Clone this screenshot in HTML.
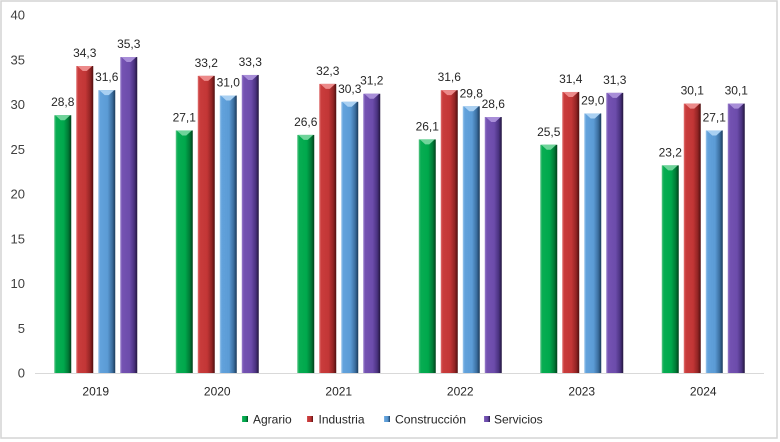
<!DOCTYPE html>
<html><head><meta charset="utf-8"><style>
html,body{margin:0;padding:0;background:#fff;}
svg{display:block;font-family:"Liberation Sans",Arial,sans-serif;}
</style></head><body>
<svg width="780" height="442" viewBox="0 0 780 442" xmlns="http://www.w3.org/2000/svg">
<defs>
<linearGradient id="gG" x1="0" x2="1" y1="0" y2="0">
<stop offset="0" stop-color="#5cc486"/><stop offset="0.12" stop-color="#07ad52"/><stop offset="0.55" stop-color="#00a84c"/><stop offset="0.82" stop-color="#007a36"/><stop offset="1" stop-color="#00401a"/></linearGradient>
<linearGradient id="gR" x1="0" x2="1" y1="0" y2="0">
<stop offset="0" stop-color="#e07070"/><stop offset="0.12" stop-color="#c93c3c"/><stop offset="0.55" stop-color="#c23636"/><stop offset="0.82" stop-color="#922424"/><stop offset="1" stop-color="#4f0f0f"/></linearGradient>
<linearGradient id="gB" x1="0" x2="1" y1="0" y2="0">
<stop offset="0" stop-color="#9cc6ec"/><stop offset="0.12" stop-color="#62a2dc"/><stop offset="0.55" stop-color="#5b9bd5"/><stop offset="0.82" stop-color="#3b6e9f"/><stop offset="1" stop-color="#1a3a5a"/></linearGradient>
<linearGradient id="gP" x1="0" x2="1" y1="0" y2="0">
<stop offset="0" stop-color="#9a80cc"/><stop offset="0.12" stop-color="#7452b2"/><stop offset="0.55" stop-color="#6c4cab"/><stop offset="0.82" stop-color="#4a3280"/><stop offset="1" stop-color="#22163d"/></linearGradient>
</defs>
<rect x="1" y="1" width="776" height="437" fill="#fff" stroke="#d4d4d4" stroke-width="1.5"/>
<g font-size="13" fill="#404040" text-anchor="end">
<text x="25" y="377.5">0</text>
<text x="25" y="332.8">5</text>
<text x="25" y="288">10</text>
<text x="25" y="243.3">15</text>
<text x="25" y="198.5">20</text>
<text x="25" y="153.8">25</text>
<text x="25" y="109">30</text>
<text x="25" y="64.3">35</text>
<text x="25" y="19.5">40</text>
</g>
<line x1="35" y1="373.5" x2="764" y2="373.5" stroke="#d9d9d9" stroke-width="1"/>
<g id="bars">
<!-- 2019 -->
<rect x="54.25" y="115.24" width="17" height="257.76" fill="url(#gG)"/>
<rect x="76.25" y="66.01" width="17" height="306.99" fill="url(#gR)"/>
<rect x="98.25" y="90.18" width="17" height="282.82" fill="url(#gB)"/>
<rect x="120.25" y="57.06" width="17" height="315.94" fill="url(#gP)"/>
<!-- 2020 -->
<rect x="175.75" y="130.45" width="17" height="242.55" fill="url(#gG)"/>
<rect x="197.75" y="75.86" width="17" height="297.14" fill="url(#gR)"/>
<rect x="219.75" y="95.55" width="17" height="277.45" fill="url(#gB)"/>
<rect x="241.75" y="74.96" width="17" height="298.04" fill="url(#gP)"/>
<!-- 2021 -->
<rect x="297.25" y="134.93" width="17" height="238.07" fill="url(#gG)"/>
<rect x="319.25" y="83.91" width="17" height="289.09" fill="url(#gR)"/>
<rect x="341.25" y="101.81" width="17" height="271.19" fill="url(#gB)"/>
<rect x="363.25" y="93.76" width="17" height="279.24" fill="url(#gP)"/>
<!-- 2022 -->
<rect x="418.75" y="139.4" width="17" height="233.6" fill="url(#gG)"/>
<rect x="440.75" y="90.18" width="17" height="282.82" fill="url(#gR)"/>
<rect x="462.75" y="106.29" width="17" height="266.71" fill="url(#gB)"/>
<rect x="484.75" y="117.03" width="17" height="255.97" fill="url(#gP)"/>
<!-- 2023 -->
<rect x="540.25" y="144.77" width="17" height="228.23" fill="url(#gG)"/>
<rect x="562.25" y="91.97" width="17" height="281.03" fill="url(#gR)"/>
<rect x="584.25" y="113.45" width="17" height="259.55" fill="url(#gB)"/>
<rect x="606.25" y="92.86" width="17" height="280.14" fill="url(#gP)"/>
<!-- 2024 -->
<rect x="661.75" y="165.36" width="17" height="207.64" fill="url(#gG)"/>
<rect x="683.75" y="103.6" width="17" height="269.4" fill="url(#gR)"/>
<rect x="705.75" y="130.45" width="17" height="242.55" fill="url(#gB)"/>
<rect x="727.75" y="103.6" width="17" height="269.4" fill="url(#gP)"/>
</g>
<g id="caps">
<polygon points="55.25,115.24 70.25,115.24 64.75,120.24 60.75,120.24" fill="#6fd49a"/>
<polygon points="77.25,66.01 92.25,66.01 86.75,71.01 82.75,71.01" fill="#ec8a8a"/>
<polygon points="99.25,90.18 114.25,90.18 108.75,95.18 104.75,95.18" fill="#a9d0f2"/>
<polygon points="121.25,57.06 136.25,57.06 130.75,62.06 126.75,62.06" fill="#a88ed8"/>
<polygon points="176.75,130.45 191.75,130.45 186.25,135.45 182.25,135.45" fill="#6fd49a"/>
<polygon points="198.75,75.86 213.75,75.86 208.25,80.86 204.25,80.86" fill="#ec8a8a"/>
<polygon points="220.75,95.55 235.75,95.55 230.25,100.55 226.25,100.55" fill="#a9d0f2"/>
<polygon points="242.75,74.96 257.75,74.96 252.25,79.96 248.25,79.96" fill="#a88ed8"/>
<polygon points="298.25,134.93 313.25,134.93 307.75,139.93 303.75,139.93" fill="#6fd49a"/>
<polygon points="320.25,83.91 335.25,83.91 329.75,88.91 325.75,88.91" fill="#ec8a8a"/>
<polygon points="342.25,101.81 357.25,101.81 351.75,106.81 347.75,106.81" fill="#a9d0f2"/>
<polygon points="364.25,93.76 379.25,93.76 373.75,98.76 369.75,98.76" fill="#a88ed8"/>
<polygon points="419.75,139.4 434.75,139.4 429.25,144.4 425.25,144.4" fill="#6fd49a"/>
<polygon points="441.75,90.18 456.75,90.18 451.25,95.18 447.25,95.18" fill="#ec8a8a"/>
<polygon points="463.75,106.29 478.75,106.29 473.25,111.29 469.25,111.29" fill="#a9d0f2"/>
<polygon points="485.75,117.03 500.75,117.03 495.25,122.03 491.25,122.03" fill="#a88ed8"/>
<polygon points="541.25,144.77 556.25,144.77 550.75,149.77 546.75,149.77" fill="#6fd49a"/>
<polygon points="563.25,91.97 578.25,91.97 572.75,96.97 568.75,96.97" fill="#ec8a8a"/>
<polygon points="585.25,113.45 600.25,113.45 594.75,118.45 590.75,118.45" fill="#a9d0f2"/>
<polygon points="607.25,92.86 622.25,92.86 616.75,97.86 612.75,97.86" fill="#a88ed8"/>
<polygon points="662.75,165.36 677.75,165.36 672.25,170.36 668.25,170.36" fill="#6fd49a"/>
<polygon points="684.75,103.6 699.75,103.6 694.25,108.6 690.25,108.6" fill="#ec8a8a"/>
<polygon points="706.75,130.45 721.75,130.45 716.25,135.45 712.25,135.45" fill="#a9d0f2"/>
<polygon points="728.75,103.6 743.75,103.6 738.25,108.6 734.25,108.6" fill="#a88ed8"/>
</g>
<g font-size="12" fill="#262626" text-anchor="middle">
<text x="62.75" y="106.2">28,8</text>
<text x="84.75" y="57">34,3</text>
<text x="106.75" y="81.2">31,6</text>
<text x="128.75" y="48">35,3</text>
<text x="184.25" y="121.4">27,1</text>
<text x="206.25" y="66.8">33,2</text>
<text x="228.25" y="86.5">31,0</text>
<text x="250.25" y="65.9">33,3</text>
<text x="305.75" y="125.9">26,6</text>
<text x="327.75" y="74.9">32,3</text>
<text x="349.75" y="92.8">30,3</text>
<text x="371.75" y="84.7">31,2</text>
<text x="427.25" y="130.4">26,1</text>
<text x="449.25" y="81.2">31,6</text>
<text x="471.25" y="97.3">29,8</text>
<text x="493.25" y="108">28,6</text>
<text x="548.75" y="135.8">25,5</text>
<text x="570.75" y="83">31,4</text>
<text x="592.75" y="104.4">29,0</text>
<text x="614.75" y="83.9">31,3</text>
<text x="670.25" y="156.4">23,2</text>
<text x="692.25" y="94.6">30,1</text>
<text x="714.25" y="121.4">27,1</text>
<text x="736.25" y="94.6">30,1</text>
</g>
<g font-size="12" fill="#262626" text-anchor="middle">
<text x="95.75" y="395.5">2019</text>
<text x="217.25" y="395.5">2020</text>
<text x="338.75" y="395.5">2021</text>
<text x="460.25" y="395.5">2022</text>
<text x="581.75" y="395.5">2023</text>
<text x="703.25" y="395.5">2024</text>
</g>
<g font-size="12" fill="#262626">
<rect x="242" y="416" width="6" height="6" fill="url(#gG)"/>
<text x="253" y="423.5">Agrario</text>
<rect x="307" y="416" width="6" height="6" fill="url(#gR)"/>
<text x="318.5" y="423.5">Industria</text>
<rect x="384" y="416" width="6" height="6" fill="url(#gB)"/>
<text x="395" y="423.5" textLength="71" lengthAdjust="spacingAndGlyphs">Construcción</text>
<rect x="484" y="416" width="6" height="6" fill="url(#gP)"/>
<text x="494" y="423.5">Servicios</text>
</g>
</svg>
</body></html>
